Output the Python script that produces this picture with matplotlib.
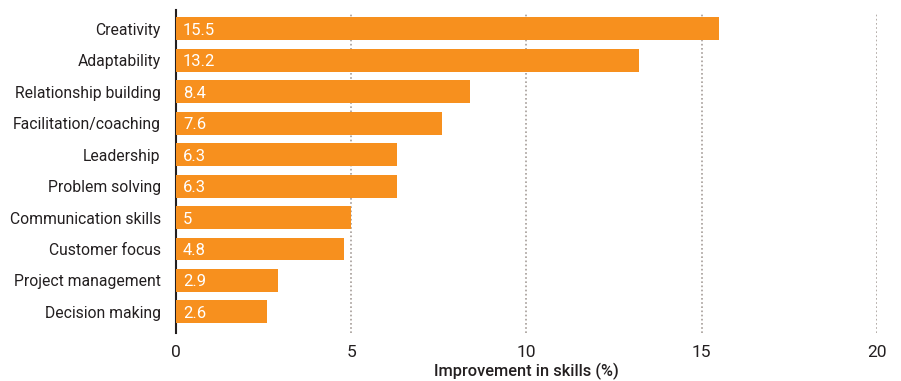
import matplotlib.pyplot as plt

skills = ['Creativity', 'Adaptability', 'Relationship building', 'Facilitation/coaching',
          'Leadership', 'Problem solving', 'Communication skills', 'Customer focus',
          'Project management', 'Decision making']
values = [15.5, 13.2, 8.4, 7.6, 6.3, 6.3, 5, 4.8, 2.9, 2.6]
value_labels = ['15.5', '13.2', '8.4', '7.6', '6.3', '6.3', '5', '4.8', '2.9', '2.6']
xticks = [0, 5, 10, 15, 20]

plt.rcParams['font.family'] = ['Roboto', 'DejaVu Sans']

ORANGE = '#F7901E'
TXT = '#231f20'
FS = 12

fig = plt.figure(figsize=(9.01, 3.81), dpi=100)
ax = fig.add_axes([0.1953, 0.126, 0.778, 0.848])

y = list(range(len(skills)))
ax.barh(y, values, height=0.73, color=ORANGE, zorder=3)
for yi, lab in zip(y, value_labels):
    ax.text(0.2, yi, lab, color='white', fontsize=FS, va='center_baseline', ha='left', zorder=4)

ax.set_xlim(0, 20)
ax.set_ylim(9.67, -0.6)
ax.set_yticks(y)
ax.set_yticklabels(skills, fontsize=11.3, color=TXT)
ax.set_xticks(xticks)
ax.set_xticklabels([str(t) for t in xticks], fontsize=12.5, color=TXT)
ax.tick_params(axis='both', length=0)
ax.tick_params(axis='y', pad=11)
ax.tick_params(axis='x', pad=9)

for t in xticks[1:]:
    ax.axvline(t, ymax=0.99, color='#a59d98', linestyle=(0, (1, 1.5)), linewidth=1.2, zorder=1)

for s in ['top', 'right', 'bottom']:
    ax.spines[s].set_visible(False)
ax.spines['left'].set_color(TXT)
ax.spines['left'].set_linewidth(1.5)

ax.set_xlabel('Improvement in skills (%)', fontsize=11.8, fontweight='medium', color=TXT, labelpad=2)

fig.savefig('out.png', dpi=100)
